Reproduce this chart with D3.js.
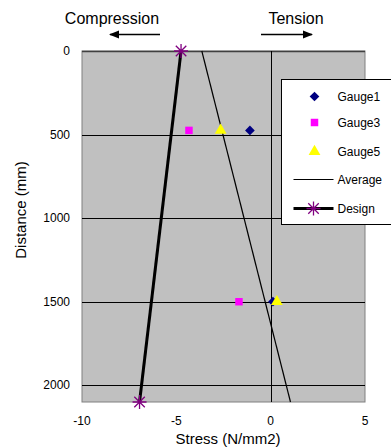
<!DOCTYPE html>
<html>
<head>
<meta charset="utf-8">
<script src="https://cdn.jsdelivr.net/npm/d3@7"></script>
<style>
  body { margin: 0; background: #fff; }
  text { font-family: "Liberation Sans", Arial, sans-serif; }
</style>
</head>
<body>
<div id="chart"></div>
<script>
// gauge readings (stress N/mm2) at two distances
var gaugeDist = [475, 1500];
var gauge1 = [-1.1, 0.12];
var gauge3 = [-4.33, -1.68];
var gauge5 = [-2.65, 0.33];

// fitted lines: [stress, distance]
var averageLine = [[-3.65, 0], [1.05, 2100]];
var designLine = [[-4.75, 0], [-6.95, 2100]];

var xTicks = [-10, -5, 0, 5];
var yTicks = [0, 500, 1000, 1500, 2000];
var legendNames = ["Gauge1", "Gauge3", "Gauge5", "Average", "Design"];

var W = 391, H = 447;
var plot = {left: 82, right: 365, top: 51, bottom: 402};

var svg = d3.select("#chart").append("svg")
  .attr("width", W)
  .attr("height", H);

var xScale = d3.scaleLinear().domain([-10, 5]).range([plot.left, plot.right]);
var yScale = d3.scaleLinear().domain([0, 2100]).range([plot.top, plot.bottom]);

// plot area
svg.append("rect")
  .attr("x", plot.left)
  .attr("y", plot.top)
  .attr("width", plot.right - plot.left)
  .attr("height", plot.bottom - plot.top)
  .attr("fill", "#c0c0c0")
  .attr("stroke", "#808080")
  .attr("stroke-width", 1);

// horizontal grid lines
svg.append("g").selectAll("line")
  .data(yTicks)
  .enter().append("line")
  .attr("x1", plot.left)
  .attr("x2", plot.right)
  .attr("y1", function(d) { return Math.round(yScale(d)) + 0.5; })
  .attr("y2", function(d) { return Math.round(yScale(d)) + 0.5; })
  .attr("stroke", function(d) { return d == 0 ? "#404040" : "#000"; })
  .attr("stroke-width", function(d) { return d == 0 ? 1.5 : 1; });

// vertical line at zero stress
svg.append("line")
  .attr("x1", Math.round(xScale(0)) + 0.5)
  .attr("x2", Math.round(xScale(0)) + 0.5)
  .attr("y1", plot.top)
  .attr("y2", plot.bottom)
  .attr("stroke", "#000")
  .attr("stroke-width", 1);

// y axis labels
svg.append("g").selectAll("text")
  .data(yTicks)
  .enter().append("text")
  .attr("x", 70)
  .attr("y", function(d) { return yScale(d) + 4; })
  .attr("text-anchor", "end")
  .attr("font-size", 12)
  .text(function(d) { return d; });

// x axis labels
svg.append("g").selectAll("text")
  .data(xTicks)
  .enter().append("text")
  .attr("x", function(d) { return xScale(d); })
  .attr("y", 425)
  .attr("text-anchor", "middle")
  .attr("font-size", 12)
  .text(function(d) { return d; });

// axis titles
svg.append("text")
  .attr("x", 228)
  .attr("y", 444)
  .attr("text-anchor", "middle")
  .attr("font-size", 15)
  .text("Stress (N/mm2)");

svg.append("text")
  .attr("transform", "translate(26,210)rotate(-90)")
  .attr("text-anchor", "middle")
  .attr("font-size", 15)
  .text("Distance (mm)");

// compression / tension labels with arrows
svg.append("defs").append("marker")
  .attr("id", "arrow")
  .attr("viewBox", "0 0 10 10")
  .attr("refX", 9)
  .attr("refY", 5)
  .attr("markerWidth", 7)
  .attr("markerHeight", 7)
  .attr("orient", "auto")
  .append("path")
  .attr("d", "M0,1L10,5L0,9z")
  .attr("fill", "#000");

svg.append("text")
  .attr("x", 112)
  .attr("y", 24)
  .attr("text-anchor", "middle")
  .attr("font-size", 16)
  .text("Compression");

svg.append("line")
  .attr("x1", 160).attr("y1", 34.5)
  .attr("x2", 110).attr("y2", 34.5)
  .attr("stroke", "#000")
  .attr("stroke-width", 1.5)
  .attr("marker-end", "url(#arrow)");

svg.append("text")
  .attr("x", 296)
  .attr("y", 24)
  .attr("text-anchor", "middle")
  .attr("font-size", 16)
  .text("Tension");

svg.append("line")
  .attr("x1", 261).attr("y1", 34.5)
  .attr("x2", 312).attr("y2", 34.5)
  .attr("stroke", "#000")
  .attr("stroke-width", 1.5)
  .attr("marker-end", "url(#arrow)");

// lines
var line = d3.line()
  .x(function(d) { return xScale(d[0]); })
  .y(function(d) { return yScale(d[1]); });

svg.append("path")
  .attr("d", line(averageLine))
  .attr("fill", "none")
  .attr("stroke", "#000")
  .attr("stroke-width", 1.2);

svg.append("path")
  .attr("d", line(designLine))
  .attr("fill", "none")
  .attr("stroke", "#000")
  .attr("stroke-width", 3);

// symbols
var purple = "#800080";
function star(g, x, y) {
  var r = 7;
  var a = r * 0.75;
  g.append("path")
    .attr("d", "M" + (x - r) + "," + y + "L" + (x + r) + "," + y +
      "M" + x + "," + (y - r) + "L" + x + "," + (y + r) +
      "M" + (x - a) + "," + (y - a) + "L" + (x + a) + "," + (y + a) +
      "M" + (x - a) + "," + (y + a) + "L" + (x + a) + "," + (y - a))
    .attr("stroke", purple)
    .attr("stroke-width", 1.3)
    .attr("fill", "none");
}

var marks = svg.append("g");
designLine.forEach(function(d) { star(marks, xScale(d[0]), yScale(d[1])); });

var diamond = d3.symbol().type(d3.symbolDiamond2).size(60);
var square = d3.symbol().type(d3.symbolSquare).size(56);
var triangle = d3.symbol().type(d3.symbolTriangle).size(60);

var series = [
  {vals: gauge1, sym: diamond, color: "#000080"},
  {vals: gauge3, sym: square, color: "#ff00ff"},
  {vals: gauge5, sym: triangle, color: "#ffff00"}
];

series.forEach(function(s) {
  marks.selectAll(null)
    .data(s.vals)
    .enter().append("path")
    .attr("d", s.sym)
    .attr("transform", function(d, i) {
      return "translate(" + xScale(d) + "," + yScale(gaugeDist[i]) + ")";
    })
    .attr("fill", s.color);
});

// legend
var legend = svg.append("g").attr("transform", "translate(281.5,79.5)");
legend.append("rect")
  .attr("width", 130)
  .attr("height", 145)
  .attr("fill", "#fff")
  .attr("stroke", "#000")
  .attr("stroke-width", 1);

var rowY = [17, 43, 72, 100, 129];
legendNames.forEach(function(name, i) {
  var y = rowY[i];
  if (i < 3) {
    legend.append("path")
      .attr("d", series[i].sym)
      .attr("transform", "translate(33," + y + ")")
      .attr("fill", series[i].color);
  } else {
    legend.append("line")
      .attr("x1", 12).attr("x2", 52)
      .attr("y1", y).attr("y2", y)
      .attr("stroke", "#000")
      .attr("stroke-width", i == 3 ? 1.2 : 3);
    if (i == 4) star(legend, 32, y);
  }
  legend.append("text")
    .attr("x", 56)
    .attr("y", y + 4)
    .attr("font-size", 12)
    .text(name);
});
</script>
</body>
</html>
